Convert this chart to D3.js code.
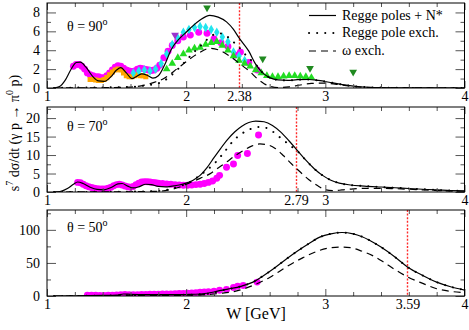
<!DOCTYPE html>
<html>
<head>
<meta charset="utf-8">
<script src="https://cdn.jsdelivr.net/npm/d3@7"></script>
<style>
body { margin: 0; background: #fff; }
text { font-family: "Liberation Serif", "Times New Roman", Times, serif; fill: #000; }
</style>
</head>
<body>
<svg id="chart" width="469" height="330"></svg>
<script>
// ---- values: [W (GeV), s^7 dsigma/dt] ----
var wTicks = [1, 2, 3, 4];
var wMinor = [1.2, 1.4, 1.6, 1.8, 2.2, 2.4, 2.6, 2.8, 3.2, 3.4, 3.6, 3.8];
var thresholds = [2.38, 2.79, 3.59];
var angles = ["90", "70", "50"];
var legendLabels = ["Regge poles + N*", "Regge pole exch.", "\u03c9 exch."];

// theta = 90
var solid90 = [[1.05,0],[1.09,0.15],[1.13,0.8],[1.17,1.9],[1.21,2.7],[1.24,2.75],[1.28,2.2],[1.33,1.2],[1.37,0.75],[1.41,0.7],[1.46,1.2],[1.5,1.9],[1.53,2.15],[1.57,1.6],[1.61,1.0],[1.64,1.2],[1.68,1.5],[1.72,1.35],[1.76,1.05],[1.8,1.3],[1.85,2.6],[1.89,4.0],[1.95,5.2],[2.0,5.9],[2.05,6.6],[2.1,7.2],[2.17,7.7],[2.23,7.5],[2.29,7.0],[2.34,6.2],[2.38,5.3],[2.45,3.9],[2.5,2.5],[2.55,1.6],[2.6,1.1],[2.66,0.85],[2.73,0.8],[2.8,0.88],[2.88,0.9],[2.95,0.8],[3.05,0.55],[3.15,0.3],[3.25,0.13],[3.4,0.04],[3.6,0.01],[4.0,0]];
var dotted90 = [[1.05,0],[1.2,0.04],[1.4,0.06],[1.55,0.1],[1.65,0.16],[1.72,0.3],[1.8,0.5],[1.87,1.05],[1.92,1.7],[1.98,2.6],[2.05,3.7],[2.12,4.7],[2.18,5.5],[2.23,5.8],[2.28,5.6],[2.33,5.0],[2.38,4.3],[2.44,3.3],[2.5,2.5],[2.55,1.6],[2.6,1.1],[2.66,0.85],[2.73,0.8],[2.8,0.88],[2.88,0.9],[2.95,0.8],[3.05,0.55],[3.15,0.3],[3.25,0.13],[3.4,0.04],[3.6,0.01],[4.0,0]];
var dashed90 = [[1.05,0],[1.4,0.03],[1.6,0.1],[1.7,0.3],[1.77,0.6],[1.84,1.0],[1.94,2.1],[2.02,3.0],[2.08,3.6],[2.17,4.2],[2.24,4.0],[2.32,3.3],[2.4,2.4],[2.46,1.7],[2.51,1.0],[2.56,0.45],[2.61,0.15],[2.66,0.05],[2.74,0.12],[2.82,0.32],[2.9,0.48],[2.98,0.52],[3.07,0.42],[3.17,0.22],[3.28,0.07],[3.45,0.01],[4.0,0]];
var magenta90 = [[1.19,2.3],[1.21,2.5],[1.23,2.5],[1.25,2.3],[1.27,2.0],[1.29,1.6],[1.31,1.4],[1.33,1.3],[1.35,1.2],[1.37,1.2],[1.39,1.1],[1.41,1.1],[1.43,1.3],[1.45,1.6],[1.47,1.9],[1.49,2.2],[1.51,2.35],[1.53,2.3],[1.55,2.1],[1.57,1.9],[1.59,1.8],[1.61,1.75],[1.63,1.8],[1.65,2.0],[1.67,2.1],[1.69,2.05],[1.71,1.95],[1.73,1.9],[1.75,1.85],[1.77,1.9],[1.79,2.1],[1.81,2.4],[1.84,3.2],[1.87,3.9],[1.9,4.5],[1.94,5.0],[1.98,5.4],[2.03,5.6],[2.09,5.9],[2.15,5.8],[2.2,5.2],[2.25,4.8],[2.3,4.4],[2.35,3.5],[2.39,3.8],[2.45,2.7],[2.51,1.9]];
var orange90 = [[1.31,0.9],[1.33,0.9],[1.35,0.85],[1.37,0.8],[1.39,0.8],[1.41,0.9],[1.43,1.1],[1.45,1.4],[1.47,1.7],[1.49,1.9],[1.51,2.0],[1.53,1.9],[1.55,1.6],[1.57,1.3],[1.59,1.2],[1.61,1.2],[1.63,1.3],[1.65,1.4],[1.67,1.3],[1.69,1.3],[1.71,1.2]];
var cyan90 = [[1.62,1.6],[1.66,1.8],[1.7,1.9],[1.74,1.8],[1.78,2.0],[1.82,2.6],[1.86,3.6],[1.9,4.6],[1.94,5.3],[1.98,5.9],[2.02,6.2],[2.06,6.4],[2.1,6.5],[2.14,6.4],[2.18,6.2],[2.22,5.9],[2.26,5.4],[2.3,4.9],[2.34,3.8],[2.38,3.4],[2.42,2.9]];
var greenUp90 = [[1.86,2.0],[1.9,2.6],[1.94,3.2],[1.98,3.6],[2.02,4.0],[2.06,4.2],[2.1,4.3],[2.14,4.6],[2.18,4.8],[2.22,4.9],[2.26,4.5],[2.3,4.0],[2.34,3.4],[2.38,2.9],[2.42,2.6],[2.46,2.3],[2.5,1.9],[2.54,1.6],[2.58,1.3],[2.62,1.2],[2.66,1.2],[2.7,1.25],[2.74,1.3],[2.78,1.3],[2.82,1.25],[2.86,1.2],[2.9,1.1]];
var greenDown90 = [[2.15,8.5],[2.55,3.1],[2.89,2.1],[3.2,1.7]];
var purple90 = [[1.92,5.6]];

// theta = 70
var solid70 = [[1.05,0],[1.1,0.2],[1.15,1.0],[1.19,2.1],[1.22,2.7],[1.26,2.3],[1.31,1.3],[1.36,0.7],[1.41,0.6],[1.46,1.2],[1.51,2.2],[1.54,2.3],[1.58,1.6],[1.62,1.1],[1.66,1.4],[1.71,2.1],[1.75,2.0],[1.8,1.5],[1.85,1.4],[1.9,1.6],[1.95,1.9],[2.0,2.4],[2.05,3.2],[2.1,4.5],[2.15,6.6],[2.2,9.3],[2.25,11.9],[2.3,14.3],[2.35,16.3],[2.4,17.8],[2.45,18.8],[2.5,19.2],[2.56,19.0],[2.62,18.0],[2.68,16.2],[2.74,13.8],[2.8,11.2],[2.86,8.6],[2.92,6.3],[2.98,4.5],[3.04,3.2],[3.1,2.4],[3.18,1.9],[3.28,1.6],[3.4,1.35],[3.5,1.15],[3.6,0.95],[3.7,0.75],[3.8,0.55],[3.9,0.4],[4.0,0.28]];
var dotted70 = [[1.05,0],[1.4,0.05],[1.7,0.15],[1.85,0.5],[1.95,1.5],[2.0,2.2],[2.04,3.0],[2.08,4.0],[2.14,5.7],[2.2,7.6],[2.27,10.6],[2.34,13.9],[2.4,15.8],[2.46,17.0],[2.52,17.6],[2.57,17.4],[2.62,16.4],[2.68,14.6],[2.74,12.8],[2.8,11.0],[2.86,8.6],[2.92,6.3],[2.98,4.5],[3.04,3.2],[3.1,2.4],[3.18,1.9],[3.28,1.6],[3.4,1.35],[3.5,1.15],[3.6,0.95],[3.7,0.75],[3.8,0.55],[3.9,0.4],[4.0,0.28]];
var dashed70 = [[1.05,0],[1.5,0.05],[1.8,0.2],[1.88,0.6],[1.95,1.3],[2.02,2.4],[2.1,3.7],[2.17,4.9],[2.23,6.5],[2.29,8.1],[2.35,9.8],[2.41,11.2],[2.47,12.4],[2.53,13.0],[2.58,12.8],[2.64,11.8],[2.7,9.8],[2.76,7.5],[2.82,5.4],[2.88,3.4],[2.94,1.8],[3.0,0.6],[3.05,0.35],[3.12,0.55],[3.2,0.85],[3.3,1.0],[3.4,1.0],[3.5,0.9],[3.6,0.75],[3.7,0.55],[3.82,0.35],[4.0,0.2]];
var magenta70 = [[1.22,2.6],[1.24,2.5],[1.26,2.1],[1.28,1.7],[1.3,1.4],[1.32,1.2],[1.34,1.0],[1.36,0.9],[1.38,0.8],[1.4,0.8],[1.42,0.8],[1.44,1.0],[1.46,1.3],[1.48,1.7],[1.5,2.0],[1.52,2.1],[1.54,1.9],[1.56,1.6],[1.58,1.4],[1.6,1.3],[1.62,1.5],[1.64,2.0],[1.66,2.4],[1.68,2.7],[1.7,2.8],[1.72,2.8],[1.74,2.7],[1.76,2.6],[1.78,2.5],[1.8,2.4],[1.83,2.3],[1.86,2.2],[1.89,2.1],[1.92,2.0],[1.95,1.9],[1.98,1.8],[2.01,1.8],[2.04,1.9],[2.07,2.0],[2.1,2.1],[2.13,2.3],[2.16,2.6],[2.19,3.0],[2.22,3.7],[2.24,4.5],[2.29,6.7],[2.34,7.6],[2.37,9.9],[2.44,10.4],[2.52,15.4]];

// theta = 50
var solid50 = [[1.05,0],[1.2,0.3],[1.3,0.5],[1.4,0.8],[1.5,1.3],[1.55,3.0],[1.6,2.6],[1.7,2.2],[1.8,2.0],[1.9,2.0],[2.0,2.3],[2.1,3.0],[2.2,6],[2.25,8.6],[2.3,10.5],[2.4,15],[2.48,21],[2.55,30],[2.62,40],[2.72,56],[2.8,68],[2.88,79],[2.96,89],[3.04,94],[3.12,96],[3.2,94],[3.26,90],[3.32,84],[3.4,74],[3.5,59],[3.59,44],[3.7,31],[3.8,21],[3.9,14],[4.0,9]];
var dotted50 = [[1.05,0],[1.3,0.3],[1.5,0.8],[1.7,1.2],[1.9,1.5],[2.1,2.5],[2.2,5],[2.25,8.0],[2.3,10.2],[2.4,15],[2.48,21],[2.55,30],[2.62,40],[2.72,56],[2.8,68],[2.88,79],[2.96,89],[3.04,94],[3.12,96],[3.2,94],[3.26,90],[3.32,84],[3.4,74],[3.5,59],[3.59,44],[3.7,31],[3.8,21],[3.9,14],[4.0,9]];
var dashed50 = [[1.05,0],[1.5,0.3],[1.8,0.8],[2.0,1.2],[2.2,3],[2.25,4],[2.35,7],[2.48,16],[2.6,28],[2.72,44],[2.84,58],[2.96,69],[3.04,73],[3.1,74],[3.18,73],[3.26,68],[3.34,61],[3.42,51],[3.5,40],[3.59,29],[3.7,19],[3.8,11],[3.9,7],[4.0,5]];
var magenta50 = [[1.29,1.2],[1.32,1.0],[1.35,1.0],[1.38,0.8],[1.41,0.8],[1.44,1.0],[1.47,1.3],[1.5,1.6],[1.53,2.0],[1.56,2.2],[1.59,2.1],[1.62,2.0],[1.65,2.0],[1.68,2.2],[1.71,2.4],[1.74,2.5],[1.77,2.6],[1.8,2.8],[1.83,2.9],[1.86,3.0],[1.89,3.2],[1.92,3.4],[1.95,3.7],[1.98,4.0],[2.01,4.3],[2.04,4.7],[2.07,5.1],[2.1,5.6],[2.13,6.1],[2.16,6.6],[2.2,7.4],[2.24,8.6],[2.29,10],[2.34,13],[2.37,14.6],[2.41,16],[2.51,21]];

// ---- layout ----
var svg = d3.select("#chart");
var x = d3.scaleLinear().domain([1, 4]).range([47, 464.5]);

var panels = [
  { name: "p90", top: 3, bottom: 88, ymax: 9, yMajor: [0,2,4,6,8], yMinor: [1,3,5,7], thr: thresholds[0], angle: angles[0], titleY: 31,
    solid: solid90, dotted: dotted90, dashed: dashed90,
    markers: [
      { data: magenta90, type: d3.symbolCircle, size: 38, color: "#ff00ff" },
      { data: orange90, type: d3.symbolSquare, size: 26, color: "#ffa500" },
      { data: cyan90, type: d3.symbolDiamond, size: 26, color: "#22e5ee" },
      { data: greenUp90, type: d3.symbolTriangle, size: 26, color: "#22dd22" },
      { data: greenDown90, type: d3.symbolTriangle, size: 26, color: "#208a20", down: true },
      { data: purple90, type: d3.symbolTriangle, size: 26, color: "#9933cc", down: true }
    ] },
  { name: "p70", top: 107, bottom: 192, ymax: 23, yMajor: [0,5,10,15,20], yMinor: [2.5,7.5,12.5,17.5,22.5], thr: thresholds[1], angle: angles[1], titleY: 131,
    solid: solid70, dotted: dotted70, dashed: dashed70,
    markers: [ { data: magenta70, type: d3.symbolCircle, size: 38, color: "#ff00ff" } ] },
  { name: "p50", top: 210, bottom: 296, ymax: 130, yMajor: [0,50,100], yMinor: [25,75,125], thr: thresholds[2], angle: angles[2], titleY: 232,
    solid: solid50, dotted: dotted50, dashed: dashed50,
    markers: [ { data: magenta50, type: d3.symbolCircle, size: 38, color: "#ff00ff" } ] }
];

function drawPanel(p) {
  var y = d3.scaleLinear().domain([0, p.ymax]).range([p.bottom, p.top]);
  var g = svg.append("g");

  g.append("clipPath").attr("id", "clip" + p.name)
    .append("rect")
    .attr("x", x(1)).attr("y", p.top)
    .attr("width", x(4) - x(1)).attr("height", p.bottom - p.top);

  var plot = g.append("g").attr("clip-path", "url(#clip" + p.name + ")");

  // threshold line, snapped to a pixel column so the red stays clean
  var tx = Math.round(x(p.thr)) + 0.5;
  plot.append("line")
    .attr("x1", tx).attr("x2", tx)
    .attr("y1", p.top).attr("y2", p.bottom)
    .attr("stroke", "#ff2a2a").attr("stroke-width", 1.4)
    .attr("stroke-dasharray", "2,1.6");

  p.markers.forEach(function (m) {
    plot.append("g").selectAll("path")
      .data(m.data)
      .join("path")
      .attr("transform", d => "translate(" + x(d[0]) + "," + y(d[1]) + ")" + (m.down ? " rotate(180)" : ""))
      .attr("d", d3.symbol().type(m.type).size(m.size))
      .attr("fill", m.color);
  });

  var line = d3.line()
    .x(d => x(d[0]))
    .y(d => y(d[1]))
    .curve(d3.curveMonotoneX);

  plot.append("path").datum(p.dashed)
    .attr("d", line).attr("fill", "none")
    .attr("stroke", "#000").attr("stroke-width", 1.2)
    .attr("stroke-dasharray", "7,5");

  plot.append("path").datum(p.dotted)
    .attr("d", line).attr("fill", "none")
    .attr("stroke", "#000").attr("stroke-width", 2)
    .attr("stroke-linecap", "round")
    .attr("stroke-dasharray", "0.1,8");

  plot.append("path").datum(p.solid)
    .attr("d", line).attr("fill", "none")
    .attr("stroke", "#000").attr("stroke-width", 1.2);

  // ticks (inward)
  var tickCol = "#555";
  function styleAxis(sel) {
    sel.select(".domain").remove();
    sel.selectAll(".tick line").attr("stroke", tickCol);
    sel.selectAll("text").style("font-family", "'Liberation Serif', 'Times New Roman', serif").style("font-size", "14px").attr("fill", "#000");
  }
  g.append("g").attr("transform", "translate(0," + p.bottom + ")")
    .call(d3.axisBottom(x).tickValues(wTicks).tickSize(-7).tickFormat("")).call(styleAxis);
  g.append("g").attr("transform", "translate(0," + p.bottom + ")")
    .call(d3.axisBottom(x).tickValues(wMinor).tickSize(-4).tickFormat("")).call(styleAxis);
  g.append("g").attr("transform", "translate(0," + p.top + ")")
    .call(d3.axisTop(x).tickValues(wTicks).tickSize(-7).tickFormat("")).call(styleAxis);
  g.append("g").attr("transform", "translate(0," + p.top + ")")
    .call(d3.axisTop(x).tickValues(wMinor).tickSize(-4).tickFormat("")).call(styleAxis);
  g.append("g").attr("transform", "translate(0," + p.bottom + ")")
    .call(d3.axisBottom(x).tickValues(wTicks.concat([p.thr])).tickSize(0).tickPadding(3).tickFormat(d => String(d)))
    .call(styleAxis);

  g.append("g").attr("transform", "translate(" + x(1) + ",0)")
    .call(d3.axisLeft(y).tickValues(p.yMajor).tickSize(-9).tickPadding(7)).call(styleAxis);
  g.append("g").attr("transform", "translate(" + x(1) + ",0)")
    .call(d3.axisLeft(y).tickValues(p.yMinor).tickSize(-4).tickFormat("")).call(styleAxis);
  g.append("g").attr("transform", "translate(" + x(4) + ",0)")
    .call(d3.axisRight(y).tickValues(p.yMajor).tickSize(-9).tickFormat("")).call(styleAxis);
  g.append("g").attr("transform", "translate(" + x(4) + ",0)")
    .call(d3.axisRight(y).tickValues(p.yMinor).tickSize(-4).tickFormat("")).call(styleAxis);

  g.append("rect")
    .attr("x", x(1)).attr("y", p.top)
    .attr("width", x(4) - x(1)).attr("height", p.bottom - p.top)
    .attr("fill", "none").attr("stroke", "#000").attr("stroke-width", 1);

  var t = g.append("text").attr("x", 67).attr("y", p.titleY).style("font-size", "14px");
  t.append("tspan").text("\u03b8 = " + p.angle);
  t.append("tspan").attr("dy", "-6").style("font-size", "10px").text("o");
}

panels.forEach(drawPanel);

// legend (panel 1)
var legend = svg.append("g");
var legendStyles = [
  { dash: null, width: 1.2, cap: "butt" },
  { dash: "0.1,8", width: 2, cap: "round" },
  { dash: "7,5", width: 1.2, cap: "butt" }
];
var legendY = [19.5, 37, 55];
legendLabels.forEach(function (lab, i) {
  legend.append("line")
    .attr("x1", 309).attr("x2", 336)
    .attr("y1", legendY[i] - 4).attr("y2", legendY[i] - 4)
    .attr("stroke", "#000").attr("stroke-width", legendStyles[i].width)
    .attr("stroke-linecap", legendStyles[i].cap)
    .attr("stroke-dasharray", legendStyles[i].dash);
  legend.append("text").attr("x", 342).attr("y", legendY[i])
    .style("font-size", "14px").text(lab);
});

// axis titles
svg.append("text")
  .attr("x", 256).attr("y", 319)
  .attr("text-anchor", "middle")
  .style("font-size", "16px")
  .text("W [GeV]");

var ylab = svg.append("text")
  .attr("transform", "translate(19,133) rotate(-90)")
  .attr("text-anchor", "middle")
  .style("font-size", "14px");
ylab.append("tspan").text("s");
ylab.append("tspan").attr("dy", -6).style("font-size", "10px").text("7");
ylab.append("tspan").attr("dy", 6).text(" d\u03c3/dt  (\u03b3 p \u2192 \u03c0");
ylab.append("tspan").attr("dy", -6).style("font-size", "10px").text("0");
ylab.append("tspan").attr("dy", 6).text(" p)");
</script>
</body>
</html>
